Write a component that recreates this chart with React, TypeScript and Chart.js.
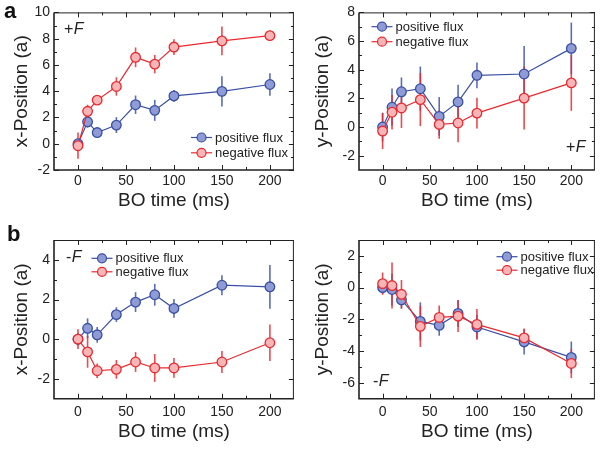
import React, { useEffect, useRef } from "react";
import { Chart, registerables } from "chart.js";

Chart.register(...registerables);

const FONT = '"Liberation Sans", Arial, Helvetica, sans-serif';
const TEXT = "#222222";

// ---------- data ----------
const times = [0, 10, 20, 40, 60, 80, 100, 150, 200];
const xTickValues = [0, 50, 100, 150, 200];
const xMinorValues = [25, 75, 125, 175];
const seriesNames = ["positive flux", "negative flux"];

// panel a, left: x-Position, +F
const aXPos = [0.0, 1.67, 0.85, 1.42, 2.97, 2.54, 3.64, 3.99, 4.51];
const aXPosErr = [0.3, 0.45, 0.3, 0.6, 0.7, 0.8, 0.45, 1.15, 0.85];
const aXNeg = [-0.15, 2.47, 3.32, 4.36, 6.58, 6.06, 7.36, 7.83, 8.23];
const aXNegErr = [1.0, 0.5, 0.3, 0.7, 0.75, 0.7, 0.6, 1.1, 0.4];
const aXTicks = [-2, 0, 2, 4, 6, 8, 10];
const aXMinor = [-1, 1, 3, 5, 7, 9];

// panel a, right: y-Position, +F
const aYPos = [0.0, 1.38, 2.46, 2.67, 0.74, 1.75, 3.61, 3.7, 5.49];
const aYPosErr = [1.0, 1.3, 1.0, 1.55, 1.35, 1.2, 0.9, 1.95, 1.8];
const aYNeg = [-0.28, 1.03, 1.33, 1.91, 0.18, 0.28, 0.97, 2.02, 3.08];
const aYNegErr = [1.25, 1.2, 1.4, 1.85, 1.0, 1.35, 1.07, 2.2, 1.95];
const aYTicks = [-2, 0, 2, 4, 6, 8];
const aYMinor = [-1, 1, 3, 5, 7];

// panel b, left: x-Position, -F
const bXPos = [0.0, 0.55, 0.22, 1.24, 1.87, 2.24, 1.55, 2.72, 2.64];
const bXPosErr = [0.3, 0.5, 0.4, 0.37, 0.5, 0.55, 0.47, 0.5, 1.1];
const bXNeg = [0.0, -0.64, -1.59, -1.52, -1.15, -1.45, -1.45, -1.15, -0.18];
const bXNegErr = [0.5, 0.8, 0.37, 0.47, 0.5, 0.7, 0.5, 0.55, 0.92];
const bXTicks = [-2, 0, 2, 4];
const bXMinor = [-1, 1, 3];

// panel b, right: y-Position, -F
const bYPos = [0.0, -0.12, -0.77, -2.13, -2.38, -1.63, -2.48, -3.42, -4.4];
const bYPosErr = [0.4, 1.0, 0.55, 1.2, 0.65, 0.85, 0.75, 0.8, 1.0];
const bYNeg = [0.25, 0.13, -0.42, -2.44, -1.88, -1.8, -2.32, -3.17, -4.78];
const bYNegErr = [0.7, 1.45, 0.9, 1.3, 0.75, 1.0, 0.97, 0.6, 0.92];
const bYTicks = [-6, -4, -2, 0, 2];
const bYMinor = [-5, -3, -1, 1];

// ---------- styles ----------
const BLUE_LINE = "#3a4fa6";
const BLUE_FILL = "#8e9bd5";
const BLUE_ERR = "rgba(60,82,175,0.85)";
const RED_LINE = "#ea2a2f";
const RED_FILL = "#f7b5b7";
const RED_ERR = "rgba(236,40,46,0.85)";

type PanelCfg = {
  left: number;
  top: number;
  width: number;
  height: number;
  padTop: number;
  padRight: number;
  yAxisWidth: number;
  xAxisHeight: number;
  yMin: number;
  yMax: number;
  yTicks: number[];
  yMinor: number[];
  yTitle: string;
  pos: number[];
  posErr: number[];
  neg: number[];
  negErr: number[];
  legendX: number;
  legendY: number;
  legendGap: number;
  noteSign: string;
  noteX: number;
  noteY: number;
  xTickPad: number;
  xTitlePad: number;
  yTitlePad: number;
};

function Panel({ cfg }: { cfg: PanelCfg }) {
  const ref = useRef<HTMLCanvasElement | null>(null);
  useEffect(() => {
    if (!ref.current) return;
    const mk = (ys: number[]) => times.map((t, i) => ({ x: t, y: ys[i] }));
    const decor = {
      id: "decor",
      beforeDatasetsDraw(chart: any) {
        const ctx = chart.ctx;
        const xs = chart.scales.x;
        const ys = chart.scales.y;
        ctx.save();
        ctx.lineWidth = 1.6;
        ctx.lineCap = "butt";
        const sets = [
          { v: cfg.pos, e: cfg.posErr, c: BLUE_ERR },
          { v: cfg.neg, e: cfg.negErr, c: RED_ERR },
        ];
        for (const s of sets) {
          ctx.strokeStyle = s.c;
          times.forEach((t, i) => {
            const px = xs.getPixelForValue(t);
            ctx.beginPath();
            ctx.moveTo(px, ys.getPixelForValue(s.v[i] - s.e[i]));
            ctx.lineTo(px, ys.getPixelForValue(s.v[i] + s.e[i]));
            ctx.stroke();
          });
        }
        ctx.restore();
      },
      afterDatasetsDraw(chart: any) {
        const ctx = chart.ctx;
        const { left, right, top, bottom } = chart.chartArea;
        const xs = chart.scales.x;
        const ys = chart.scales.y;
        ctx.save();
        ctx.strokeStyle = TEXT;
        // frame
        ctx.lineWidth = 1;
        ctx.beginPath();
        ctx.moveTo(left, top + 0.5);
        ctx.lineTo(right, top + 0.5);
        ctx.moveTo(right - 0.5, top);
        ctx.lineTo(right - 0.5, bottom);
        ctx.stroke();
        ctx.lineWidth = 1.6;
        ctx.beginPath();
        ctx.moveTo(left, top);
        ctx.lineTo(left, bottom);
        ctx.lineTo(right, bottom);
        ctx.stroke();
        // ticks
        ctx.lineWidth = 1;
        const tick = (vals: number[], len: number) => {
          ctx.beginPath();
          for (const v of vals) {
            const px = Math.round(xs.getPixelForValue(v)) + 0.5;
            ctx.moveTo(px, bottom);
            ctx.lineTo(px, bottom - len);
            ctx.moveTo(px, top);
            ctx.lineTo(px, top + len);
          }
          ctx.stroke();
        };
        const ytick = (vals: number[], len: number) => {
          ctx.beginPath();
          for (const v of vals) {
            const py = Math.round(ys.getPixelForValue(v)) + 0.5;
            ctx.moveTo(left, py);
            ctx.lineTo(left + len, py);
            ctx.moveTo(right, py);
            ctx.lineTo(right - len, py);
          }
          ctx.stroke();
        };
        tick(xTickValues, 5);
        tick(xMinorValues, 3);
        ytick(cfg.yTicks, 5);
        ytick(cfg.yMinor, 3);

        // legend
        const items = [
          { name: seriesNames[0], line: BLUE_LINE, fill: BLUE_FILL },
          { name: seriesNames[1], line: RED_LINE, fill: RED_FILL },
        ];
        ctx.font = `13px ${FONT}`;
        ctx.textBaseline = "middle";
        ctx.textAlign = "left";
        items.forEach((it, i) => {
          const y = cfg.legendY + i * cfg.legendGap;
          const x0 = cfg.legendX;
          ctx.strokeStyle = it.line;
          ctx.lineWidth = 1.2;
          ctx.beginPath();
          ctx.moveTo(x0, y);
          ctx.lineTo(x0 + 21, y);
          ctx.stroke();
          ctx.beginPath();
          ctx.arc(x0 + 10.5, y, 4.5, 0, Math.PI * 2);
          ctx.fillStyle = it.fill;
          ctx.fill();
          ctx.stroke();
          ctx.fillStyle = TEXT;
          ctx.fillText(it.name, x0 + 24, y + 0.5);
        });

        // +F / -F note
        ctx.fillStyle = TEXT;
        ctx.textBaseline = "middle";
        ctx.font = `16px ${FONT}`;
        ctx.fillText(cfg.noteSign, cfg.noteX, cfg.noteY);
        const w = ctx.measureText(cfg.noteSign).width;
        ctx.font = `italic 16px ${FONT}`;
        ctx.fillText("F", cfg.noteX + w + 0.5, cfg.noteY);
        ctx.restore();
      },
    };

    const chart = new Chart(ref.current, {
      type: "line",
      data: {
        datasets: [
          {
            label: seriesNames[0],
            data: mk(cfg.pos),
            borderColor: BLUE_LINE,
            backgroundColor: BLUE_FILL,
            pointBackgroundColor: BLUE_FILL,
            pointBorderColor: BLUE_LINE,
            borderWidth: 1.2,
            pointRadius: 4.8,
            pointBorderWidth: 1.3,
            tension: 0,
            order: 2,
          },
          {
            label: seriesNames[1],
            data: mk(cfg.neg),
            borderColor: RED_LINE,
            backgroundColor: RED_FILL,
            pointBackgroundColor: RED_FILL,
            pointBorderColor: RED_LINE,
            borderWidth: 1.2,
            pointRadius: 4.8,
            pointBorderWidth: 1.3,
            tension: 0,
            order: 1,
          },
        ],
      },
      options: {
        responsive: false,
        animation: false,
        events: [],
        layout: {
          padding: { top: cfg.padTop, right: cfg.padRight, left: 0, bottom: 0 },
        },
        plugins: {
          legend: { display: false },
          tooltip: { enabled: false },
        },
        scales: {
          x: {
            type: "linear",
            min: -25,
            max: 225,
            grid: { display: false, drawTicks: false },
            border: { display: false },
            afterBuildTicks: (s: any) => {
              s.ticks = xTickValues.map((v) => ({ value: v }));
            },
            afterFit: (s: any) => {
              s.height = cfg.xAxisHeight;
            },
            ticks: {
              color: TEXT,
              padding: cfg.xTickPad,
              font: { family: FONT, size: 14 },
              maxRotation: 0,
              autoSkip: false,
            },
            title: {
              display: true,
              text: "BO time (ms)",
              color: TEXT,
              font: { family: FONT, size: 19 },
              padding: { top: 0, bottom: cfg.xTitlePad },
            },
          },
          y: {
            type: "linear",
            min: cfg.yMin,
            max: cfg.yMax,
            grid: { display: false, drawTicks: false },
            border: { display: false },
            afterBuildTicks: (s: any) => {
              s.ticks = cfg.yTicks.map((v) => ({ value: v }));
            },
            afterFit: (s: any) => {
              s.width = cfg.yAxisWidth;
            },
            ticks: {
              color: TEXT,
              padding: 4,
              font: { family: FONT, size: 14 },
              autoSkip: false,
            },
            title: {
              display: true,
              text: cfg.yTitle,
              color: TEXT,
              font: { family: FONT, size: 19 },
              padding: { top: cfg.yTitlePad, bottom: 0 },
            },
          },
        },
      },
      plugins: [decor],
    } as any);
    return () => chart.destroy();
  }, [cfg]);

  return (
    <canvas
      ref={ref}
      width={cfg.width}
      height={cfg.height}
      style={{
        position: "absolute",
        left: cfg.left,
        top: cfg.top,
        width: cfg.width,
        height: cfg.height,
      }}
    />
  );
}

const panels: PanelCfg[] = [
  {
    left: 0, top: 0, width: 300, height: 215,
    padTop: 10, padRight: 2, yAxisWidth: 54, xAxisHeight: 45,
    yMin: -2, yMax: 10, yTicks: aXTicks, yMinor: aXMinor, yTitle: "x-Position (a)",
    pos: aXPos, posErr: aXPosErr, neg: aXNeg, negErr: aXNegErr,
    legendX: 191, legendY: 137.5, legendGap: 15.3,
    noteSign: "+", noteX: 64, noteY: 30,
    xTickPad: 3, xTitlePad: 3, yTitlePad: 10,
  },
  {
    left: 300, top: 0, width: 301, height: 215,
    padTop: 10, padRight: 0, yAxisWidth: 59, xAxisHeight: 45,
    yMin: -3, yMax: 8, yTicks: aYTicks, yMinor: aYMinor, yTitle: "y-Position (a)",
    pos: aYPos, posErr: aYPosErr, neg: aYNeg, negErr: aYNegErr,
    legendX: 71.5, legendY: 26.7, legendGap: 15,
    noteSign: "+", noteX: 266, noteY: 148,
    xTickPad: 3, xTitlePad: 3, yTitlePad: 11.5,
  },
  {
    left: 0, top: 215, width: 300, height: 235,
    padTop: 25, padRight: 2, yAxisWidth: 54, xAxisHeight: 51.3,
    yMin: -3, yMax: 5, yTicks: bXTicks, yMinor: bXMinor, yTitle: "x-Position (a)",
    pos: bXPos, posErr: bXPosErr, neg: bXNeg, negErr: bXNegErr,
    legendX: 91.5, legendY: 43.3, legendGap: 13.5,
    noteSign: "-", noteX: 66, noteY: 43,
    xTickPad: 5, xTitlePad: 6.5, yTitlePad: 10,
  },
  {
    left: 300, top: 215, width: 301, height: 235,
    padTop: 25, padRight: 0, yAxisWidth: 59, xAxisHeight: 51.3,
    yMin: -7, yMax: 3, yTicks: bYTicks, yMinor: bYMinor, yTitle: "y-Position (a)",
    pos: bYPos, posErr: bYPosErr, neg: bYNeg, negErr: bYNegErr,
    legendX: 196.5, legendY: 41.7, legendGap: 13.5,
    noteSign: "-", noteX: 73, noteY: 167,
    xTickPad: 5, xTitlePad: 6.5, yTitlePad: 11.5,
  },
];

const letterStyle: React.CSSProperties = {
  position: "absolute",
  fontFamily: FONT,
  fontWeight: "bold",
  fontSize: 22,
  lineHeight: "22px",
  color: "#111",
  margin: 0,
};

export default function App() {
  return (
    <div
      style={{
        position: "absolute",
        left: 0,
        top: 0,
        width: 601,
        height: 450,
        background: "#ffffff",
        overflow: "hidden",
      }}
    >
      {panels.map((p, i) => (
        <Panel key={i} cfg={p} />
      ))}
      <span style={{ ...letterStyle, left: 4, top: 0 }}>a</span>
      <span style={{ ...letterStyle, left: 7, top: 223 }}>b</span>
    </div>
  );
}
